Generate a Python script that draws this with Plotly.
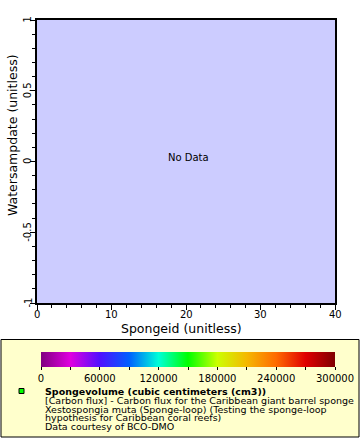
import plotly.graph_objects as go

# Data (the reference shows "No Data")
spongeid = []
watersampdate = []
spongevolume = []

x_ticks = [0, 10, 20, 30, 40]
x_ticktext = ["0", "10", "20", "30", "40"]
y_ticks = [-1, -0.5, 0, 0.5, 1]
y_ticktext = ["-1", "-0.5", "0", "0.5", "1"]
cb_tickvals = [0, 30000, 60000, 90000, 120000, 150000, 180000, 210000, 240000, 270000, 300000]
cb_ticktext = ["0", "", "60000", "", "120000", "", "180000", "", "240000", "", "300000"]
cb_range = [0, 300000]

legend_title = "Spongevolume (cubic centimeters (cm3))"
legend_lines = [
    "[Carbon flux] - Carbon flux for the Caribbean giant barrel sponge",
    "Xestospongia muta (Sponge-loop) (Testing the sponge-loop",
    "hypothesis for Caribbean coral reefs)",
    "Data courtesy of BCO-DMO",
]

colorscale = [
    [0.0, "#800080"],
    [0.1, "#E000E0"],
    [0.2, "#5010FF"],
    [0.3, "#0060FF"],
    [0.4, "#00FFD8"],
    [0.5, "#00FF00"],
    [0.6, "#CCFF00"],
    [0.7, "#F5B800"],
    [0.8, "#FF6A00"],
    [0.9, "#E00000"],
    [1.0, "#800000"],
]

W, H = 360, 440
FONT = "DejaVu Sans"

def px(x):
    return x / W

def py(y):
    return 1 - y / H

fig = go.Figure()
# actual (empty) data trace
fig.add_trace(go.Scatter(
    x=spongeid, y=watersampdate, mode="markers",
    marker=dict(color=spongevolume, colorscale=colorscale, cmin=cb_range[0], cmax=cb_range[1]),
    showlegend=False,
))
# placeholder trace carrying the colour bar (no visible point)
fig.add_trace(go.Scatter(
    x=[None], y=[None], mode="markers",
    marker=dict(color=[cb_range[0]], colorscale=colorscale, cmin=cb_range[0], cmax=cb_range[1],
                showscale=True,
                colorbar=dict(orientation="h", x=px(188), xanchor="center",
                              len=294 / W, lenmode="fraction", thickness=15,
                              y=py(352), yanchor="top", ypad=0, xpad=0,
                              outlinewidth=0, ticks="outside", ticklen=3,
                              tickcolor="black",
                              tickvals=cb_tickvals, ticktext=cb_ticktext,
                              tickfont=dict(size=10, color="black", family=FONT))),
    showlegend=False, hoverinfo="skip",
))

fig.update_layout(
    width=W, height=H,
    margin=dict(l=0, r=0, t=0, b=0, autoexpand=False),
    paper_bgcolor="white",
    plot_bgcolor="#CCCCFF",
    font=dict(family=FONT, color="black"),
    xaxis=dict(domain=[px(37), px(335)], range=[0, 40], tickvals=x_ticks,
               ticks="outside", ticklen=5, tickcolor="black", showticklabels=False,
               minor=dict(dtick=2, ticks="outside", ticklen=3, tickcolor="black"),
               showline=True, linecolor="black", linewidth=1.5, mirror=True,
               showgrid=False, zeroline=False, automargin=False),
    yaxis=dict(domain=[py(303), py(20)], range=[-1, 1], tickvals=y_ticks,
               ticks="outside", ticklen=5, tickcolor="black", showticklabels=False,
               minor=dict(dtick=0.1, ticks="outside", ticklen=3, tickcolor="black"),
               showline=True, linecolor="black", linewidth=1.5, mirror=True,
               showgrid=False, zeroline=False, automargin=False),
)

# x tick labels
for v, t in zip(x_ticks, x_ticktext):
    fig.add_annotation(x=v, y=py(314.5), xref="x", yref="paper", text=t,
                       xanchor="center", yanchor="middle", showarrow=False,
                       font=dict(size=10, color="black"))
# y tick labels (rotated, close to the axis as in the reference)
for v, t in zip(y_ticks, y_ticktext):
    fig.add_annotation(x=px(27.5), y=v, xref="paper", yref="y", text=t, textangle=-90,
                       xanchor="center", yanchor="middle", showarrow=False,
                       font=dict(size=10, color="black"))

# axis titles
fig.add_annotation(x=px(181.5), y=py(328.5), xref="paper", yref="paper", text="Spongeid (unitless)",
                   xanchor="center", yanchor="middle",
                   showarrow=False, font=dict(size=12.5, color="black"))
fig.add_annotation(x=px(12), y=py(135), xref="paper", yref="paper", text="Watersampdate (unitless)",
                   xanchor="center", yanchor="middle",
                   showarrow=False, textangle=-90, font=dict(size=12.5, color="black"))

# "No Data" label
fig.add_annotation(x=20.4, y=0.03, xref="x", yref="y", text="No Data", showarrow=False,
                   font=dict(size=10, color="black"))

# Legend box
fig.add_shape(type="rect", xref="paper", yref="paper", x0=px(1), x1=px(359),
              y0=py(437), y1=py(339.5), fillcolor="#FFFFCC", line=dict(color="black", width=1),
              layer="below")
# legend marker
fig.add_shape(type="rect", xref="paper", yref="paper", x0=px(19), x1=px(24),
              y0=py(393.5), y1=py(388.5), fillcolor="#00FF00", line=dict(color="black", width=1))

fig.add_annotation(x=px(43), y=py(391), xref="paper", yref="paper", xanchor="left", yanchor="middle",
                   text="<b>" + legend_title + "</b>", showarrow=False,
                   font=dict(size=9.5, color="black"))
ys = [400.5, 409.3, 417.8, 426.7]
for line, yy in zip(legend_lines, ys):
    fig.add_annotation(x=px(43), y=py(yy), xref="paper", yref="paper", xanchor="left",
                       yanchor="middle", text=line, showarrow=False,
                       font=dict(size=9.5, color="black"))

fig.write_html("out.html", config={"displayModeBar": False},
               post_script="document.body.style.margin='0px';")
